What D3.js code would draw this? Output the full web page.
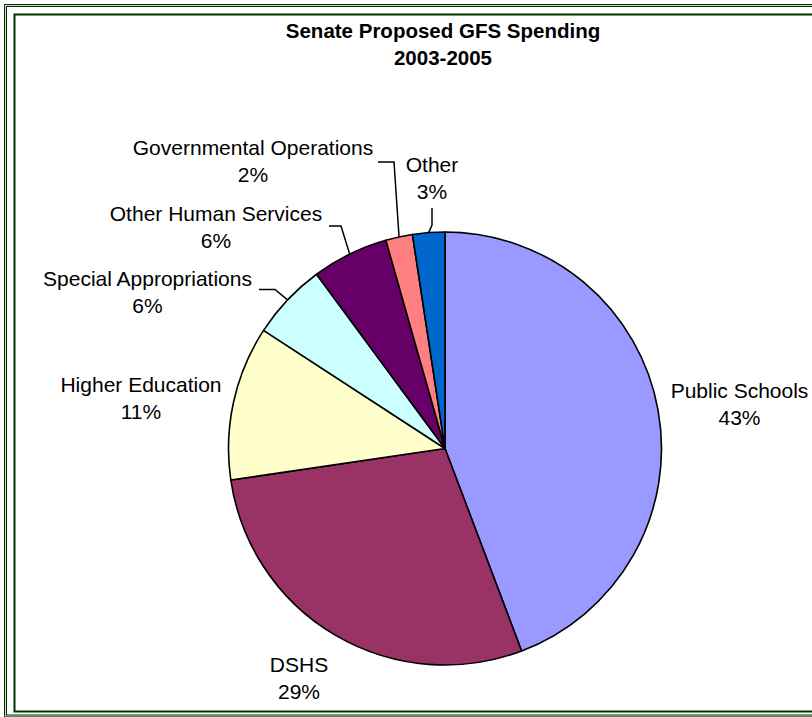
<!DOCTYPE html>
<html>
<head>
<meta charset="utf-8">
<script src="https://cdn.jsdelivr.net/npm/d3@7"></script>
<style>
  html, body { margin: 0; padding: 0; background: #fff; }
  svg text { font-family: "Liberation Sans", Arial, sans-serif; fill: #000; }
</style>
</head>
<body>
<div id="chart"></div>
<script>
// data
const categories = ["Public Schools", "DSHS", "Higher Education", "Special Appropriations",
                    "Other Human Services", "Governmental Operations", "Other"];
const shares = [44.2, 28.4, 11.5, 5.7, 5.7, 2.0, 2.4];
const pctLabels = ["43%", "29%", "11%", "6%", "6%", "2%", "3%"];
const colors = ["#9999FF", "#993366", "#FFFFCC", "#CCFFFF", "#660066", "#FF8080", "#0066CC"];
const titleLines = ["Senate Proposed GFS Spending", "2003-2005"];

const width = 812, height = 717;
const cx = 445, cy = 448.5, radius = 216.5;

const svg = d3.select("#chart").append("svg")
    .attr("width", width)
    .attr("height", height);

// FRAME
const frameColor = "#003300";
svg.append("rect")
    .attr("x", 5.5).attr("y", 5.5)
    .attr("width", 1000).attr("height", 710.5)
    .attr("fill", "none").attr("stroke", frameColor).attr("stroke-width", 3);
svg.append("rect")
    .attr("x", 5.5).attr("y", 5.5)
    .attr("width", 1000).attr("height", 710.5)
    .attr("fill", "none").attr("stroke", "#fff").attr("stroke-width", 0.8);
svg.append("rect")
    .attr("x", 14.5).attr("y", 14.5)
    .attr("width", 1000).attr("height", 697)
    .attr("fill", "none").attr("stroke", frameColor).attr("stroke-width", 2);

// TITLE
svg.append("text")
    .attr("x", 443).attr("y", 38)
    .attr("text-anchor", "middle")
    .style("font-weight", "bold").style("font-size", "20.5px")
    .selectAll("tspan")
    .data(titleLines)
    .enter().append("tspan")
    .attr("x", 443)
    .attr("dy", (d, i) => i === 0 ? 0 : 27)
    .text(d => d);

// PIE
const pie = d3.pie().sort(null).value(d => d);
const arcs = pie(shares);
const arc = d3.arc().innerRadius(0).outerRadius(radius);

const g = svg.append("g").attr("transform", `translate(${cx},${cy})`);

g.selectAll("path.slice")
    .data(arcs)
    .enter().append("path")
    .attr("class", "slice")
    .attr("d", arc)
    .attr("fill", (d, i) => colors[i])
    .attr("stroke", "#000")
    .attr("stroke-width", 1.6)
    .attr("stroke-linejoin", "round");

// LABELS (placement as in the picture, leaders end on the slice rim)
const labelPos = [
    { x: 739.5, y: 398 },
    { x: 299, y: 672 },
    { x: 141, y: 392 },
    { x: 147.5, y: 286 },
    { x: 216, y: 221 },
    { x: 253, y: 155 },
    { x: 432, y: 172 }
];
const leaders = [
    null,
    null,
    null,
    [[259, 289.5], [275, 289.5]],
    [[329, 226], [341, 226]],
    [[378, 162], [394, 162]],
    [[432, 208], [432, 225]]
];

const rimArc = d3.arc().innerRadius(radius).outerRadius(radius);
const line = d3.line();

arcs.forEach((a, i) => {
    if (!leaders[i]) return;
    const c = rimArc.centroid(a);
    const pts = leaders[i].concat([[cx + c[0], cy + c[1]]]);
    svg.append("path")
        .attr("d", line(pts))
        .attr("fill", "none")
        .attr("stroke", "#000")
        .attr("stroke-width", 1.5);
});

const labels = svg.selectAll("text.label")
    .data(categories)
    .enter().append("text")
    .attr("class", "label")
    .attr("text-anchor", "middle")
    .attr("x", (d, i) => labelPos[i].x)
    .attr("y", (d, i) => labelPos[i].y)
    .style("font-size", "21px");

labels.append("tspan")
    .attr("x", (d, i) => labelPos[i].x)
    .text(d => d);
labels.append("tspan")
    .attr("x", (d, i) => labelPos[i].x)
    .attr("dy", 26.5)
    .text((d, i) => pctLabels[i]);
</script>
</body>
</html>
